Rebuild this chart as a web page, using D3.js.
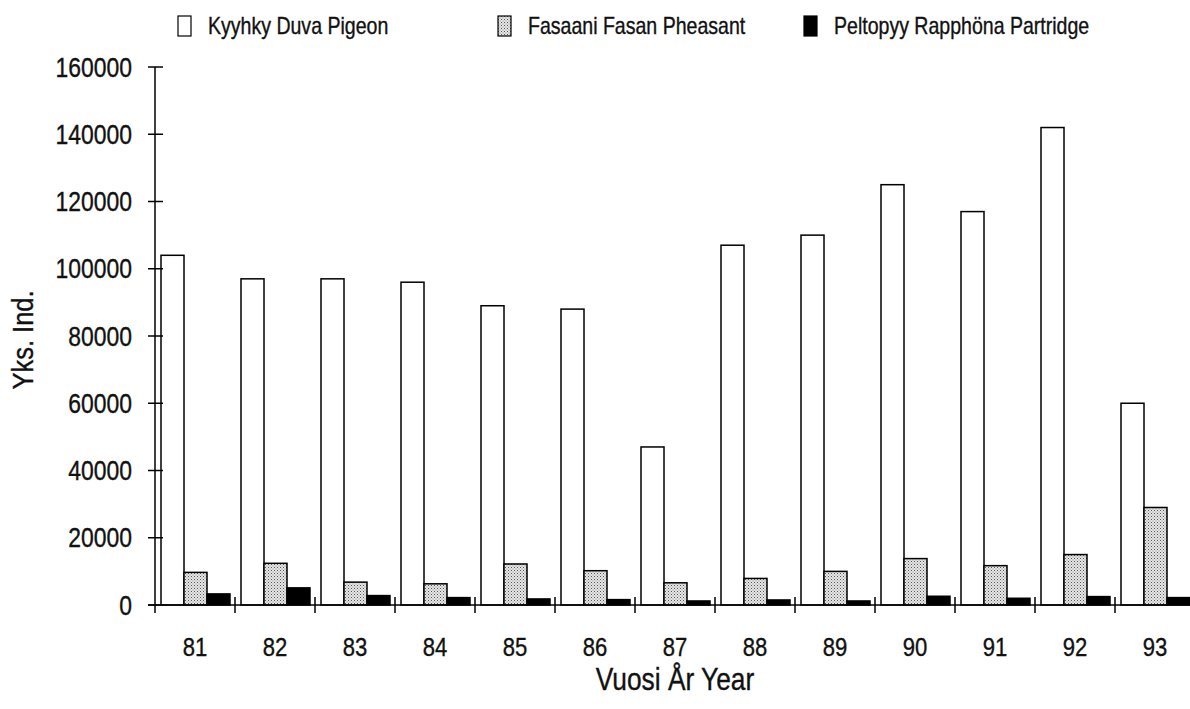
<html>
    <head>
        <script src="https://cdn.jsdelivr.net/npm/d3@7"></script>
        <style>
            body{ margin:0; background:#fff; }
            text{ font-family:"Liberation Sans",Arial,sans-serif; fill:#111; stroke:#111; stroke-width:0.35px; }
        </style>
    </head>
    <body>
        <svg id="svg" width="1190" height="709"></svg>
        <script>
            // data
            var years = ["81","82","83","84","85","86","87","88","89","90","91","92","93"];
            var pigeon = [104000,97000,97000,96000,89000,88000,47000,107000,110000,125000,117000,142000,60000];
            var pheasant = [9700,12400,6800,6300,12200,10200,6600,7900,10000,13800,11700,15000,29000];
            var partridge = [3300,5100,2800,2200,1800,1600,1200,1500,1200,2600,2000,2500,2200];
            var seriesNames = ["Kyyhky Duva Pigeon","Fasaani Fasan Pheasant","Peltopyy Rapphöna Partridge"];
            var yTicks = [0,20000,40000,60000,80000,100000,120000,140000,160000];

            var svg = d3.select("svg");
            var plotL = 155, plotR = 1195, plotT = 67, plotB = 605;
            var narrow = 0.85; // the scan uses a condensed helvetica

            // condensed text helper
            function label(g, x, y, size, anchor, str, rot){
                return g.append("text")
                    .attr("transform", "translate(" + x + "," + y + ")" + (rot ? " rotate(" + rot + ")" : "") + " scale(" + narrow + ",1)")
                    .attr("text-anchor", anchor)
                    .style("font-size", size + "px")
                    .text(str);
            }

            // stipple for the pheasant bars
            var defs = svg.append("defs");
            var pat = defs.append("pattern").attr("id","dots")
                        .attr("width",3).attr("height",3).attr("patternUnits","userSpaceOnUse");
            pat.append("rect").attr("width",3).attr("height",3).attr("fill","#e6e6e6");
            pat.append("rect").attr("x",0).attr("y",0).attr("width",1).attr("height",1).attr("fill","#555");
            pat.append("rect").attr("x",1.5).attr("y",1.5).attr("width",1).attr("height",1).attr("fill","#888");

            var fills = ["#fff","url(#dots)","#000"];
            var seriesData = [pigeon, pheasant, partridge];

            var x = d3.scaleBand().domain(years).range([plotL, plotR]).padding(0);
            var x1 = d3.scaleBand().domain([0,1,2]).range([6, 75]);
            var y = d3.scaleLinear().domain([0,160000]).range([plotB, plotT]);

            // bars
            var groups = svg.append("g").selectAll("g").data(years).enter().append("g")
                .attr("transform", function(d){ return "translate(" + x(d) + ",0)"; });
            groups.selectAll("rect").data(function(d,i){
                    return seriesData.map(function(s,k){ return {k:k, v:s[i]}; });
                }).enter().append("rect")
                .attr("x", function(d){ return x1(d.k); })
                .attr("width", x1.bandwidth())
                .attr("y", function(d){ return y(d.v); })
                .attr("height", function(d){ return plotB - y(d.v); })
                .attr("fill", function(d){ return fills[d.k]; })
                .attr("stroke","#000").attr("stroke-width",1.5);

            // y axis
            var yAxis = svg.append("g");
            yAxis.append("line").attr("x1",plotL).attr("x2",plotL).attr("y1",plotT).attr("y2",plotB)
                .attr("stroke","#000").attr("stroke-width",1.5);
            yTicks.forEach(function(t){
                yAxis.append("line").attr("x1",plotL-7).attr("x2",plotL+8).attr("y1",y(t)).attr("y2",y(t))
                    .attr("stroke","#000").attr("stroke-width",1.5);
                label(yAxis, 132, y(t) + 9.5, 27, "end", t);
            });

            // x axis
            var xAxis = svg.append("g");
            xAxis.append("line").attr("x1",plotL-7).attr("x2",1190).attr("y1",plotB).attr("y2",plotB)
                .attr("stroke","#000").attr("stroke-width",1.5);
            years.forEach(function(d,i){
                var bx = x(d);
                xAxis.append("line").attr("x1",bx).attr("x2",bx)
                    .attr("y1", i === 0 ? plotB : plotB-8).attr("y2", plotB+8)
                    .attr("stroke","#000").attr("stroke-width",1.5);
                label(xAxis, bx + x.bandwidth()/2, 656, 26, "middle", d);
            });

            // axis titles
            label(svg, (plotL+plotR)/2, 690, 31, "middle", "Vuosi År Year");
            label(svg, 33, 340, 30, "middle", "Yks. Ind.", -90);

            // legend
            var legendX = [178, 498, 804];
            seriesNames.forEach(function(name,i){
                var g = svg.append("g").attr("transform","translate(" + legendX[i] + ",16)");
                g.append("rect").attr("width",13).attr("height",20)
                    .attr("fill", fills[i]).attr("stroke","#000").attr("stroke-width",1.2);
                label(g, 30, 18, 23, "start", name);
            });
        </script>
    </body>
</html>
